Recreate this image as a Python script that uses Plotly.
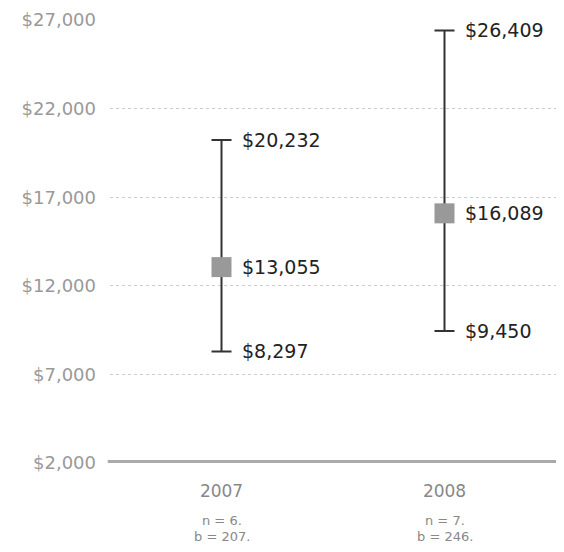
import plotly.graph_objects as go

years = ["2007", "2008"]
medians = [13055, 16089]
highs = [20232, 26409]
lows = [8297, 9450]
n_vals = [6, 7]
b_vals = [207, 246]
tick_vals = [2000, 7000, 12000, 17000, 22000, 27000]
tick_text = ["$2,000", "$7,000", "$12,000", "$17,000", "$22,000", "$27,000"]

xs = [0, 1]
err_plus = [h - m for h, m in zip(highs, medians)]
err_minus = [m - l for m, l in zip(medians, lows)]

FONT = "DejaVu Sans, sans-serif"

fig = go.Figure()
fig.add_trace(go.Scatter(
    x=xs, y=medians, mode="markers",
    marker=dict(symbol="square", size=20, color="#999999"),
    error_y=dict(type="data", symmetric=False, array=err_plus, arrayminus=err_minus,
                 color="#333333", thickness=2, width=10),
    showlegend=False, hoverinfo="skip"))

fmt = lambda v: "${:,}".format(v)
ann = []
for x, m, h, l in zip(xs, medians, highs, lows):
    for v in (h, m, l):
        ann.append(dict(x=x, y=v, xref="x", yref="y", text=fmt(v), showarrow=False,
                        xanchor="left", yanchor="middle", xshift=18,
                        font=dict(family=FONT, size=19, color="#222222")))
for x, nv, bv in zip(xs, n_vals, b_vals):
    ann.append(dict(x=x, y=0, xref="x", yref="paper", yshift=-57,
                    text="n = {}.".format(nv), showarrow=False,
                    xanchor="center", yanchor="middle",
                    font=dict(family=FONT, size=13, color="#888888")))
    ann.append(dict(x=x, y=0, xref="x", yref="paper", yshift=-73,
                    text="b = {}.".format(bv), showarrow=False,
                    xanchor="center", yanchor="middle",
                    font=dict(family=FONT, size=13, color="#888888")))

fig.update_layout(
    width=548, height=536,
    margin=dict(l=102, r=0, t=12, b=81),
    paper_bgcolor="white", plot_bgcolor="white",
    annotations=ann,
    shapes=[dict(type="line", xref="paper", yref="y", x0=-0.005, x1=1, y0=2000, y1=2000,
                 line=dict(color="#aaaaaa", width=6))],
    xaxis=dict(range=[-0.5, 1.5], tickvals=xs, ticktext=years, showgrid=False,
               zeroline=False, showline=False, ticks="", ticklabelstandoff=16,
               tickfont=dict(family=FONT, size=17, color="#888888")),
    yaxis=dict(range=[2000, 27000], tickvals=tick_vals, ticktext=tick_text,
               showgrid=True, gridcolor="#cccccc", griddash="dot", gridwidth=1,
               zeroline=False, showline=False, ticks="", ticklabelstandoff=13,
               tickfont=dict(family=FONT, size=18, color="#999999")),
)
fig.write_html("out.html")
